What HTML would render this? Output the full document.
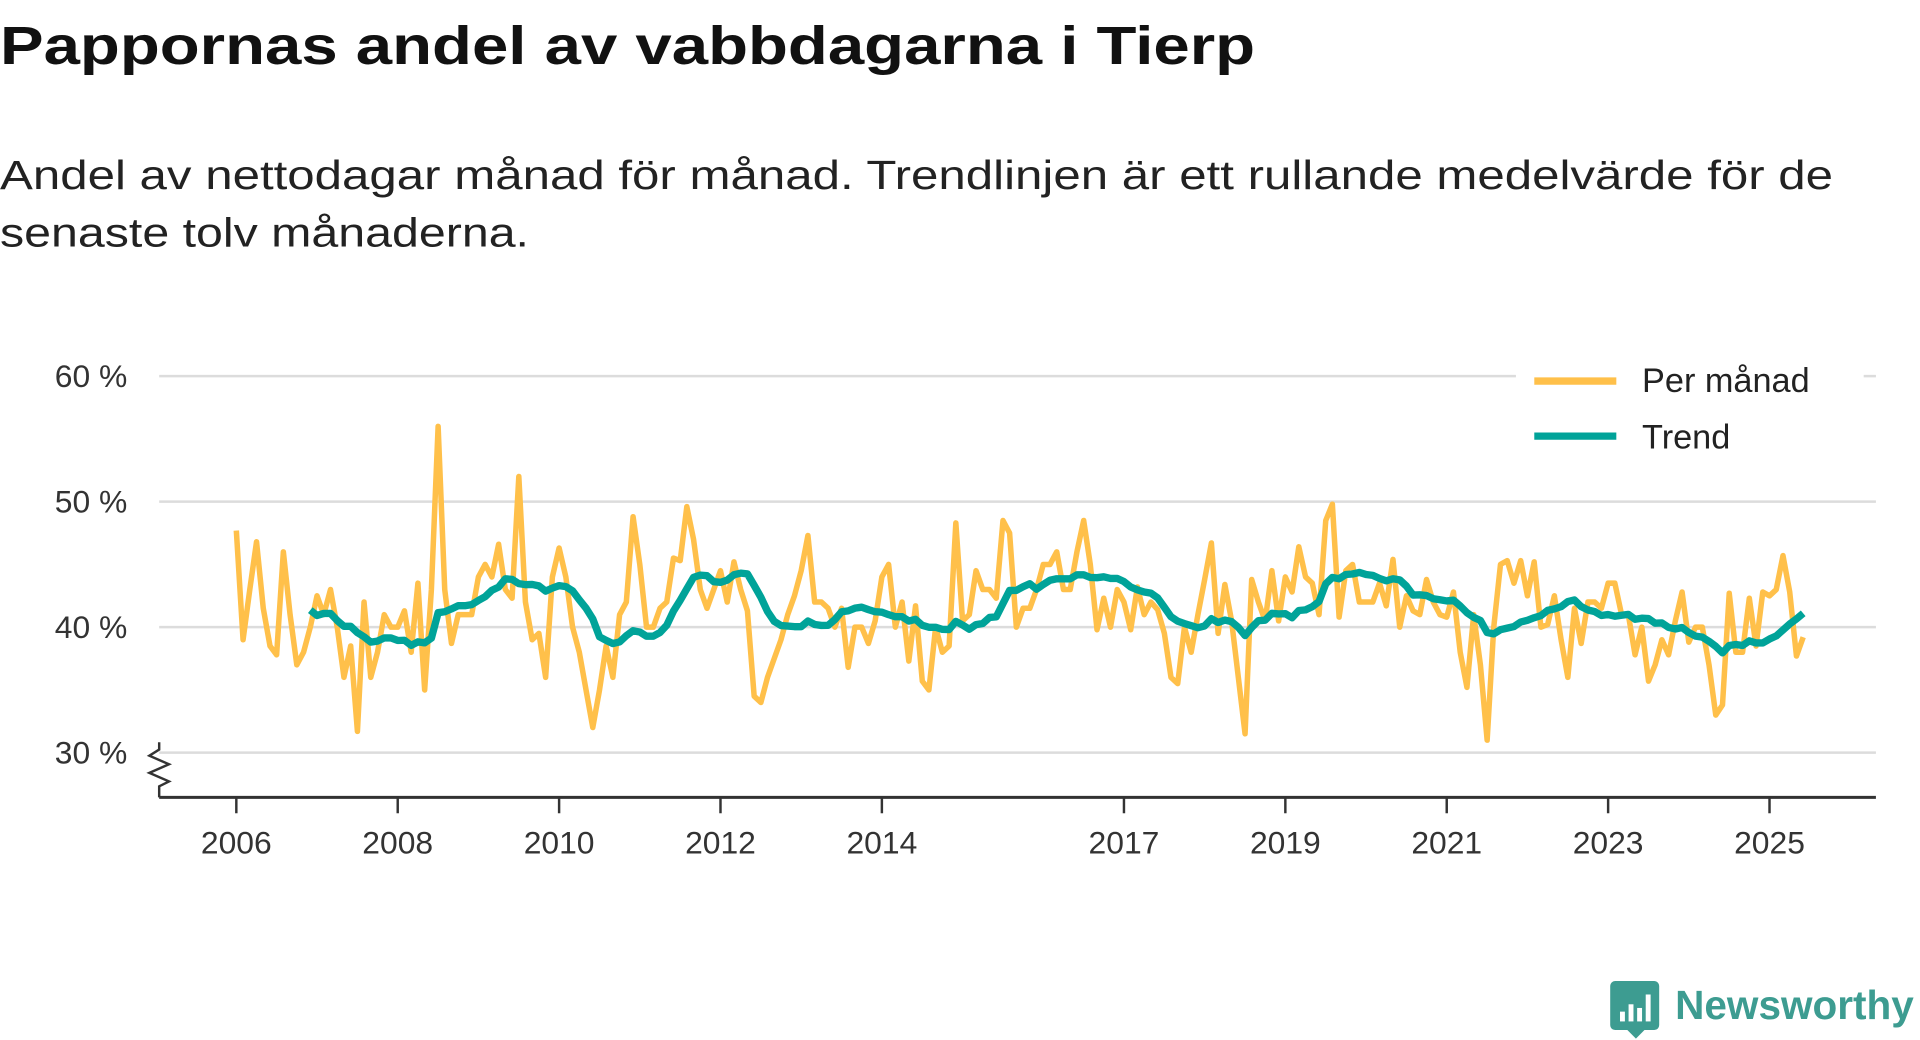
<!DOCTYPE html>
<html><head><meta charset="utf-8"><title>Pappornas andel av vabbdagarna i Tierp</title>
<style>html,body{margin:0;padding:0;background:#fff;width:1920px;height:1040px;overflow:hidden}svg{display:block}</style>
</head><body>
<svg id="chart" width="1920" height="1040" viewBox="0 0 1568 849" xmlns="http://www.w3.org/2000/svg" font-family="'Liberation Sans', sans-serif">
<text x="0" y="52" font-size="44" font-weight="bold" fill="#111" textLength="1025" lengthAdjust="spacingAndGlyphs">Pappornas andel av vabbdagarna i Tierp</text>
<text x="0" y="154" font-size="33" fill="#222" textLength="1497" lengthAdjust="spacingAndGlyphs">Andel av nettodagar månad för månad. Trendlinjen är ett rullande medelvärde för de</text>
<text x="0" y="201" font-size="33" fill="#222" textLength="432" lengthAdjust="spacingAndGlyphs">senaste tolv månaderna.</text>
<g id="grid"></g>
<g id="yticks"></g>
<g id="xaxis"></g>
<g id="series"></g>
<g>
<rect x="1238" y="290" width="284" height="90" fill="#fff"/>
<line x1="1253" y1="311" x2="1320" y2="311" stroke="#ffc04a" stroke-width="6"/>
<text x="1341" y="320" font-size="28" fill="#222">Per månad</text>
<line x1="1253" y1="356" x2="1320" y2="356" stroke="#00a399" stroke-width="6"/>
<text x="1341" y="366" font-size="28" fill="#222">Trend</text>
</g>
<g>
<path d="M1319 801 h32 a4 4 0 0 1 4 4 v32 a4 4 0 0 1 -4 4 h-8 l-7 7 l-7 -7 h-10 a4 4 0 0 1 -4 -4 v-32 a4 4 0 0 1 4 -4z" fill="#3d9c91"/>
<rect x="1323" y="826" width="4" height="8" fill="#fff"/>
<rect x="1330" y="820" width="4" height="14" fill="#fff"/>
<rect x="1337" y="823" width="4" height="11" fill="#fff"/>
<rect x="1344" y="812" width="4" height="22" fill="#fff"/>
<text x="1368" y="832" font-size="33" font-weight="bold" fill="#3d9c91" textLength="195" lengthAdjust="spacingAndGlyphs">Newsworthy</text>
</g>
</svg>
<script>
const yTicks = [30, 40, 50, 60];
const xTickYears = [2006, 2008, 2010, 2012, 2014, 2017, 2019, 2021, 2023, 2025];
const startYear = 2006;
const monthly = [
47.7,39,43,46.8,41.5,38.5,37.8,46,41,37,38,40,
42.5,41,43,40,36,38.5,31.7,42,36,38,41,40,
40,41.3,38,43.5,35,43,56,43,38.7,41,41,41,44,
45,44,46.6,43,42.3,52,42,39,39.5,36,44,46.3,
44,40,38,35,32,35,38.5,36,41,42,48.8,
45,40,40,41.5,42,45.5,45.3,49.6,47,43,41.5,43,
44.5,42,45.2,43,41.3,34.5,34,36,37.5,39,41,42.5,
44.5,47.3,42,42,41.5,40,41.5,36.8,40,40,38.7,40.5,
44,45,40,42,37.3,41.7,35.7,35,40,38,38.5,48.3,
40.5,41,44.5,43,43,42.3,48.5,47.5,40,41.5,41.5,43,
45,45,46,43,43,46,48.5,45,39.8,42.3,40,43,
42,39.8,43.2,41,42,41.4,39.5,36,35.5,40,38,41,43.8,
46.7,39.5,43.4,40.5,36,31.5,43.8,42,40.5,44.5,40.5,44,
42.8,46.4,44,43.5,41,48.5,49.8,40.8,44.5,45,42,42,
42,43.5,41.7,45.4,40,42.5,41.3,41,43.8,42,41,40.8,
42.8,38,35.2,41,37,31,40,45,45.3,43.5,45.3,42.5,
45.2,40,40.2,42.5,39,36,41.5,38.7,42,42,41.5,43.5,
43.5,41,41,37.8,40,35.7,37,39,37.8,40.5,42.8,38.8,
40,40,37,33,33.8,42.7,38,38,42.3,38.5,42.8,42.5,43,45.7,
42.8,37.7,39.2
];
const trendWindow = 12;

const NS = 'http://www.w3.org/2000/svg';
const X0 = 130, X1 = 1532;
function xScale(monthIndex){ return 193 + monthIndex * (65.9/12); }
function yScale(v){ return 512 - (v - 40) * 10.25; }
function mk(tag, attrs, parent){ const e = document.createElementNS(NS, tag); for (const k in attrs) e.setAttribute(k, attrs[k]); parent.appendChild(e); return e; }

const grid = document.getElementById('grid');
const yt = document.getElementById('yticks');
yTicks.forEach(v => {
  const l = mk('line', {x1: X0, x2: X1, y1: yScale(v), y2: yScale(v), stroke: '#dcdcdc', 'stroke-width': 2}, grid);
  
  
  const t = mk('text', {x: 104, y: yScale(v) + 9, 'text-anchor': 'end', 'font-size': 26, fill: '#333'}, yt);
  t.textContent = v + ' %';
  
  
});
const br = mk('path', {d: 'M130 606 L130 612 L122 617 L138 624 L122 631 L138 638 L130 642 L130 651', fill: 'none', stroke: '#333', 'stroke-width': 2}, yt);



const xa = document.getElementById('xaxis');
const al = mk('line', {x1: X0, x2: X1, y1: 651, y2: 651, stroke: '#333', 'stroke-width': 2.5}, xa);


xTickYears.forEach(yr => {
  const x = xScale((yr - startYear) * 12);
  const tk = mk('line', {x1: x, x2: x, y1: 651, y2: 664, stroke: '#333', 'stroke-width': 2}, xa);
  
  
  const t = mk('text', {x: x, y: 697, 'text-anchor': 'middle', 'font-size': 26, fill: '#333'}, xa);
  t.textContent = yr;
  
  
});

const s = document.getElementById('series');
const mPts = monthly.map((v, i) => xScale(i).toFixed(1) + ',' + yScale(v).toFixed(1)).join(' ');
const mLine = mk('polyline', {points: mPts, fill: 'none', stroke: '#ffc04a', 'stroke-width': 4.5, 'stroke-linejoin': 'round'}, s);


const tp = [];
for (let i = trendWindow - 1; i < monthly.length; i++) {
  let sum = 0;
  for (let j = i - trendWindow + 1; j <= i; j++) sum += monthly[j];
  tp.push(xScale(i).toFixed(1) + ',' + yScale(sum / trendWindow).toFixed(1));
}
const tLine = mk('polyline', {points: tp.join(' '), fill: 'none', stroke: '#00a399', 'stroke-width': 6, 'stroke-linejoin': 'round'}, s);


</script>
</body></html>
